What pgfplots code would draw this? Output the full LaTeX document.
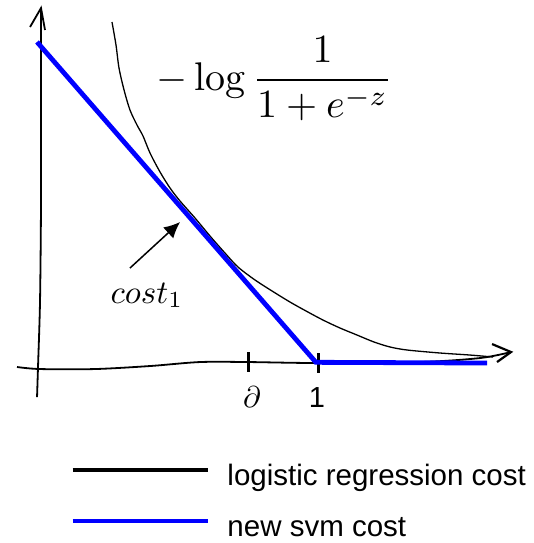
\documentclass[border=0pt]{standalone}
\usepackage{pgfplots}
\pgfplotsset{compat=1.18}
\usepackage{fontspec}
\usetikzlibrary{arrows.meta}
\newfontfamily\legfont{Liberation Sans}
\begin{document}
\begin{tikzpicture}
\begin{axis}[
  width=533pt, height=543pt, scale only axis,
  xmin=-3.543, xmax=4.071, ymin=-2.571, ymax=5.186,
  hide axis, clip=false,
  legend style={at={(axis cs:-2.529,-1.45)}, anchor=north west, draw=none, fill=none,
    inner sep=0pt, outer sep=0pt, row sep=24pt,
    font=\legfont\fontsize{29.5}{33}\selectfont,
    nodes={inner sep=0pt, text height=21pt, text depth=6pt},
    /tikz/every odd column/.append style={column sep=18pt}},
  legend cell align=left,
  legend image code/.code={\draw[#1, line width=3.5pt] (0pt,8pt) -- (135pt,8pt);},
]
\path (rel axis cs:0,0) rectangle (rel axis cs:1,1);
% hand-drawn axes
\addplot[black, line width=1.8pt, smooth, forget plot] coordinates {
 (-3.014,-0.486) (-3.0,-0.057) (-2.971,0.9) (-2.957,2.329) (-2.957,3.757) (-2.957,5.071)};
\addplot[black, line width=1.8pt, forget plot] coordinates {
 (-3.114,4.8) (-2.957,5.071) (-2.9,4.757)};
\addplot[black, line width=1.8pt, smooth, forget plot] coordinates {
 (-3.3,-0.057) (-2.971,-0.086) (-2.186,-0.086) (-1.4,-0.043) (-0.686,0.014) (0,0.014) (1,0) (2.457,0.014) (3.314,0.071) (3.757,0.157)};
\addplot[black, line width=2.2pt, forget plot] coordinates {
 (3.486,0.271) (3.757,0.157) (3.557,0.014)};
\addplot[black, line width=3pt, forget plot] coordinates {(0,0.157) (0,-0.129)};
\addplot[black, line width=3pt, forget plot] coordinates {(1,0.143) (1,-0.143)};
% logistic regression cost
\addplot[black, line width=1.3pt, smooth] coordinates {
 (-1.943,4.871) (-1.886,4.543) (-1.843,4.214) (-1.771,3.900) (-1.686,3.614)
 (-1.586,3.400) (-1.500,3.243) (-1.400,3.000) (-1.257,2.729) (-1.114,2.500)
 (-0.971,2.314) (-0.757,2.071) (-0.543,1.814) (-0.329,1.571) (-0.143,1.371)
 (0.100,1.186) (0.343,1.029) (0.600,0.871) (0.829,0.743) (1.071,0.614)
 (1.314,0.500) (1.557,0.400) (1.800,0.300) (2.029,0.229) (2.271,0.186)
 (2.743,0.143) (3.171,0.114) (3.500,0.086)};
\addlegendentry{logistic regression cost}
% new svm cost
\addplot[blue, line width=4.8pt] coordinates {(-3.014,4.586) (0.97,0.01) (3.414,0)};
\addlegendentry{new svm cost}
% labels
\node[anchor=base west, inner sep=0pt, scale=4] at (axis cs:-1.314,3.9)
  {$\displaystyle -\log\frac{1}{1+e^{-z}}$};
\node[anchor=base west, inner sep=0pt, scale=3.3] at (axis cs:-1.971,0.857)
  {$cost_1$};
\draw[black, line width=1.5pt, -{Latex[length=16pt,width=15pt]}] (axis cs:-1.686,1.357) -- (axis cs:-0.971,2.014);
\node[inner sep=0pt, scale=3] at (axis cs:0.057,-0.486) {$\partial$};
\node[inner sep=0pt] at (axis cs:0.986,-0.486) {\legfont\fontsize{29}{34}\selectfont 1};
\end{axis}
\end{tikzpicture}
\end{document}
